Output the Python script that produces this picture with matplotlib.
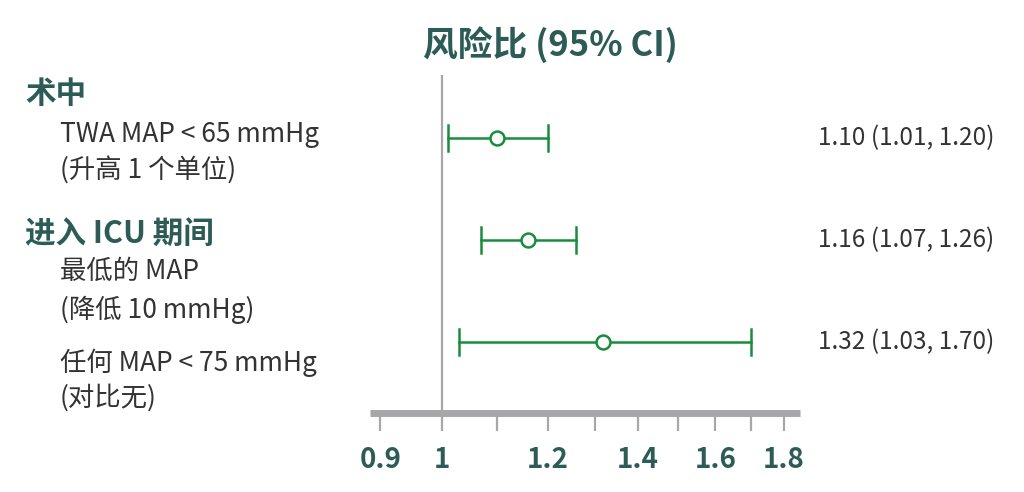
import matplotlib.pyplot as plt
import matplotlib.transforms as mtransforms
from matplotlib.ticker import NullLocator

plt.rcParams['font.family'] = ['Noto Sans CJK SC', 'DejaVu Sans']

# data
hr = [1.10, 1.16, 1.32]
ci_low = [1.01, 1.07, 1.03]
ci_high = [1.20, 1.26, 1.70]
rows = [1, 2, 3]

tick_vals = [0.9, 1, 1.1, 1.2, 1.3, 1.4, 1.5, 1.6, 1.7, 1.8]
tick_labels = ['0.9', '1', '', '1.2', '', '1.4', '', '1.6', '', '1.8']

headings = ['术中', '进入 ICU 期间']
heading_y = [0.57, 1.94]
sub_labels = ['TWA MAP < 65 mmHg', '(升高 1 个单位)', '最低的 MAP', '(降低 10 mmHg)',
              '任何 MAP < 75 mmHg', '(对比无)']
sub_y = [0.97, 1.31, 2.31, 2.68, 3.2, 3.55]

title = '风险比 (95% CI)'

teal = '#2d5c57'
green = '#1a8c3e'
grey = '#a7a7a9'
text_col = '#333333'

fig = plt.figure(figsize=(10.24, 4.92), dpi=100)
ax = fig.add_axes([370 / 1024, 1 - 413 / 492, 430 / 1024, 338 / 492])

ax.set_xscale('log')
ax.set_xlim(0.884, 1.85)
ax.set_ylim(3.696, 0.382)

ax.axvline(1, color=grey, lw=1.6, zorder=1)

for y, h, lo, hi in zip(rows, hr, ci_low, ci_high):
    ax.plot([lo, hi], [y, y], color=green, lw=1.8, zorder=2)
    ax.plot([lo, lo], [y - 0.13, y + 0.13], color=green, lw=1.8, zorder=2)
    ax.plot([hi, hi], [y - 0.13, y + 0.13], color=green, lw=1.8, zorder=2)
    ax.plot(h, y, 'o', ms=10, mfc='white', mec=green, mew=1.8, zorder=3)

for s in ['top', 'right', 'left']:
    ax.spines[s].set_visible(False)
ax.spines['bottom'].set_color(grey)
ax.spines['bottom'].set_linewidth(5)
ax.spines['bottom'].set_capstyle('butt')

ax.set_yticks([])
ax.xaxis.set_minor_locator(NullLocator())
ax.set_xticks(tick_vals)
ax.set_xticklabels(tick_labels)
ax.tick_params(axis='x', length=13, width=1.6, color=grey, pad=11,
               labelsize=20, labelcolor=teal)
for lab in ax.get_xticklabels():
    lab.set_fontweight('bold')

# left labels
trans = mtransforms.blended_transform_factory(fig.transFigure, ax.transData)
for txt, y in zip(headings, heading_y):
    fig.text(25 / 1024, y, txt, transform=trans, fontsize=22, fontweight='bold',
             color=teal, va='center', ha='left')
for txt, y in zip(sub_labels, sub_y):
    fig.text(60 / 1024, y, txt, transform=trans, fontsize=19,
             color=text_col, va='center', ha='left')

# right value labels
for y, h, lo, hi in zip(rows, hr, ci_low, ci_high):
    fig.text(818 / 1024, y, f'{h:.2f} ({lo:.2f}, {hi:.2f})', transform=trans,
             fontsize=17.5, color=text_col, va='center', ha='left')

fig.text(550 / 1024, 1 - 45 / 492, title, fontsize=25, fontweight='bold',
         color=teal, ha='center', va='center')

fig.savefig('out.png', dpi=100)
